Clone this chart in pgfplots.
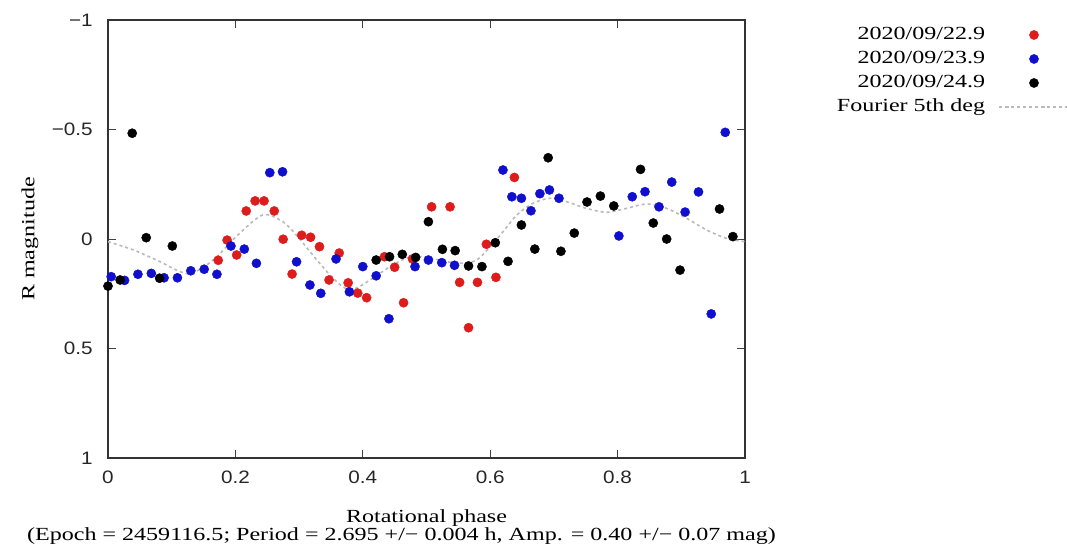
\documentclass[border=0pt]{standalone}
\usepackage{fontspec}
\setmainfont{Liberation Serif}[FakeStretch=1.3]
\setsansfont{Liberation Sans}[FakeStretch=1.15]
\usepackage{pgfplots}
\pgfplotsset{compat=1.18}
\definecolor{pred}{RGB}{222,28,28}
\definecolor{pblue}{RGB}{15,15,205}
\definecolor{pgray}{RGB}{185,185,185}
\begin{document}
\fontsize{18.5}{19}\selectfont
\begin{tikzpicture}
\useasboundingbox (-108pt,-86pt) rectangle (959pt,458pt);
\begin{axis}[
  at={(0pt,0pt)}, anchor=south west,
  scale only axis, width=637pt, height=438pt,
  xmin=0, xmax=1, ymin=-1, ymax=1, y dir=reverse,
  xtick={0,0.2,0.4,0.6,0.8,1},
  xticklabels={0,0.2,0.4,0.6,0.8,1},
  ytick={-1,-0.5,0,0.5,1},
  yticklabels={−1,−0.5,0,0.5,1},
  tick label style={font=\sffamily\fontsize{18}{18}\selectfont, text=black!85},
  xticklabel style={yshift=-7pt},
  yticklabel style={xshift=-9pt},
  tick align=inside, major tick length=8pt,
  every tick/.style={black!75, line width=0.8pt},
  axis line style={black!80, line width=1.2pt},
  xlabel={Rotational phase},
  xlabel style={at={([yshift=-60pt]axis description cs:0.5,0)}, anchor=center, font=\fontsize{18.5}{18.5}\selectfont},
  ylabel={R magnitude},
  ylabel style={at={([xshift=-78pt]axis description cs:0,0.5)}, anchor=center, rotate=0, font=\fontsize{18.5}{18.5}\selectfont},
  legend plot pos=right,
  legend cell align=right,
  legend image code/.code={\draw[mark repeat=2,mark phase=2,#1] plot coordinates {(0pt,0pt) (35pt,0pt) (70pt,0pt)};},
  legend style={at={(axis description cs:1.5102,0.9857)}, anchor=north east, draw=none, fill=none,
    inner sep=0pt, row sep=7pt, font=\fontsize{18.5}{18.5}\selectfont,
    nodes={inner sep=0pt, text height=13pt, text depth=4pt},
    /tikz/every odd column/.append style={column sep=13pt}},
  clip=false,
]
\addplot[only marks, mark=*, mark size=4.6pt, pred, mark options={draw=pred, fill=pred}] coordinates {
(0.173,0.097) (0.187,0.005) (0.202,0.073) (0.217,-0.128) (0.231,-0.174) (0.245,-0.174)
(0.261,-0.128) (0.275,0.001) (0.289,0.160) (0.304,-0.017) (0.318,-0.008) (0.332,0.035)
(0.347,0.187) (0.363,0.064) (0.377,0.200) (0.392,0.247) (0.406,0.268) (0.434,0.081)
(0.450,0.129) (0.464,0.291) (0.478,0.091) (0.508,-0.147) (0.537,-0.147) (0.552,0.198)
(0.566,0.405) (0.580,0.198) (0.594,0.024) (0.609,0.175) (0.638,-0.281)
};
\addlegendentry{2020/09/22.9}
\addplot[only marks, mark=*, mark size=4.6pt, pblue, mark options={draw=pblue, fill=pblue}] coordinates {
(0.005,0.172) (0.026,0.189) (0.047,0.161) (0.068,0.157) (0.088,0.177) (0.109,0.177)
(0.130,0.145) (0.151,0.138) (0.171,0.161) (0.193,0.032) (0.214,0.046) (0.233,0.111)
(0.254,-0.303) (0.274,-0.307) (0.296,0.104) (0.317,0.210) (0.334,0.248) (0.358,0.091)
(0.379,0.241) (0.400,0.126) (0.421,0.168) (0.441,0.364) (0.482,0.126) (0.503,0.096)
(0.524,0.108) (0.544,0.120) (0.620,-0.315) (0.634,-0.193) (0.649,-0.186) (0.664,-0.129)
(0.678,-0.207) (0.693,-0.224) (0.708,-0.186) (0.802,-0.014) (0.823,-0.193) (0.843,-0.216)
(0.865,-0.147) (0.885,-0.260) (0.906,-0.123) (0.927,-0.215) (0.947,0.342) (0.969,-0.487)
};
\addlegendentry{2020/09/23.9}
\addplot[only marks, mark=*, mark size=4.6pt, black, mark options={draw=black, fill=black}] coordinates {
(0.000,0.215) (0.019,0.187) (0.038,-0.483) (0.060,-0.006) (0.081,0.179) (0.101,0.032)
(0.421,0.096) (0.442,0.081) (0.462,0.070) (0.483,0.084) (0.503,-0.079) (0.525,0.047)
(0.545,0.053) (0.566,0.123) (0.587,0.126) (0.608,0.017) (0.628,0.102) (0.649,-0.064)
(0.670,0.046) (0.691,-0.371) (0.711,0.056) (0.732,-0.027) (0.752,-0.169) (0.773,-0.196)
(0.794,-0.151) (0.836,-0.318) (0.856,-0.073) (0.877,0.000) (0.898,0.142) (0.960,-0.137)
(0.981,-0.011)
};
\addlegendentry{2020/09/24.9}
\addplot[pgray, line width=1.6pt, dash pattern=on 3pt off 3pt, smooth, no marks] coordinates {
(0.000,0.012) (0.040,0.050) (0.082,0.104) (0.113,0.149) (0.133,0.155) (0.165,0.096)
(0.207,-0.027) (0.243,-0.110) (0.270,-0.087) (0.290,-0.037) (0.328,0.096) (0.353,0.178)
(0.372,0.224) (0.390,0.224) (0.416,0.178) (0.443,0.126) (0.469,0.087) (0.495,0.081)
(0.532,0.104) (0.557,0.110) (0.579,0.096) (0.600,0.035) (0.620,-0.033) (0.642,-0.110)
(0.667,-0.163) (0.694,-0.186) (0.720,-0.170) (0.751,-0.140) (0.783,-0.122) (0.814,-0.140)
(0.846,-0.160) (0.877,-0.140) (0.908,-0.095) (0.940,-0.041) (0.971,-0.003) (1.000,0.012)
};
\addlegendentry{Fourier 5th deg}
\node[font=\fontsize{18.5}{18.5}\selectfont, anchor=center] at ([xshift=-25pt,yshift=-78pt]axis description cs:0.5,0) {(Epoch = 2459116.5; Period = 2.695 +/− 0.004 h, Amp. = 0.40 +/− 0.07 mag)};
\end{axis}
\end{tikzpicture}
\end{document}
